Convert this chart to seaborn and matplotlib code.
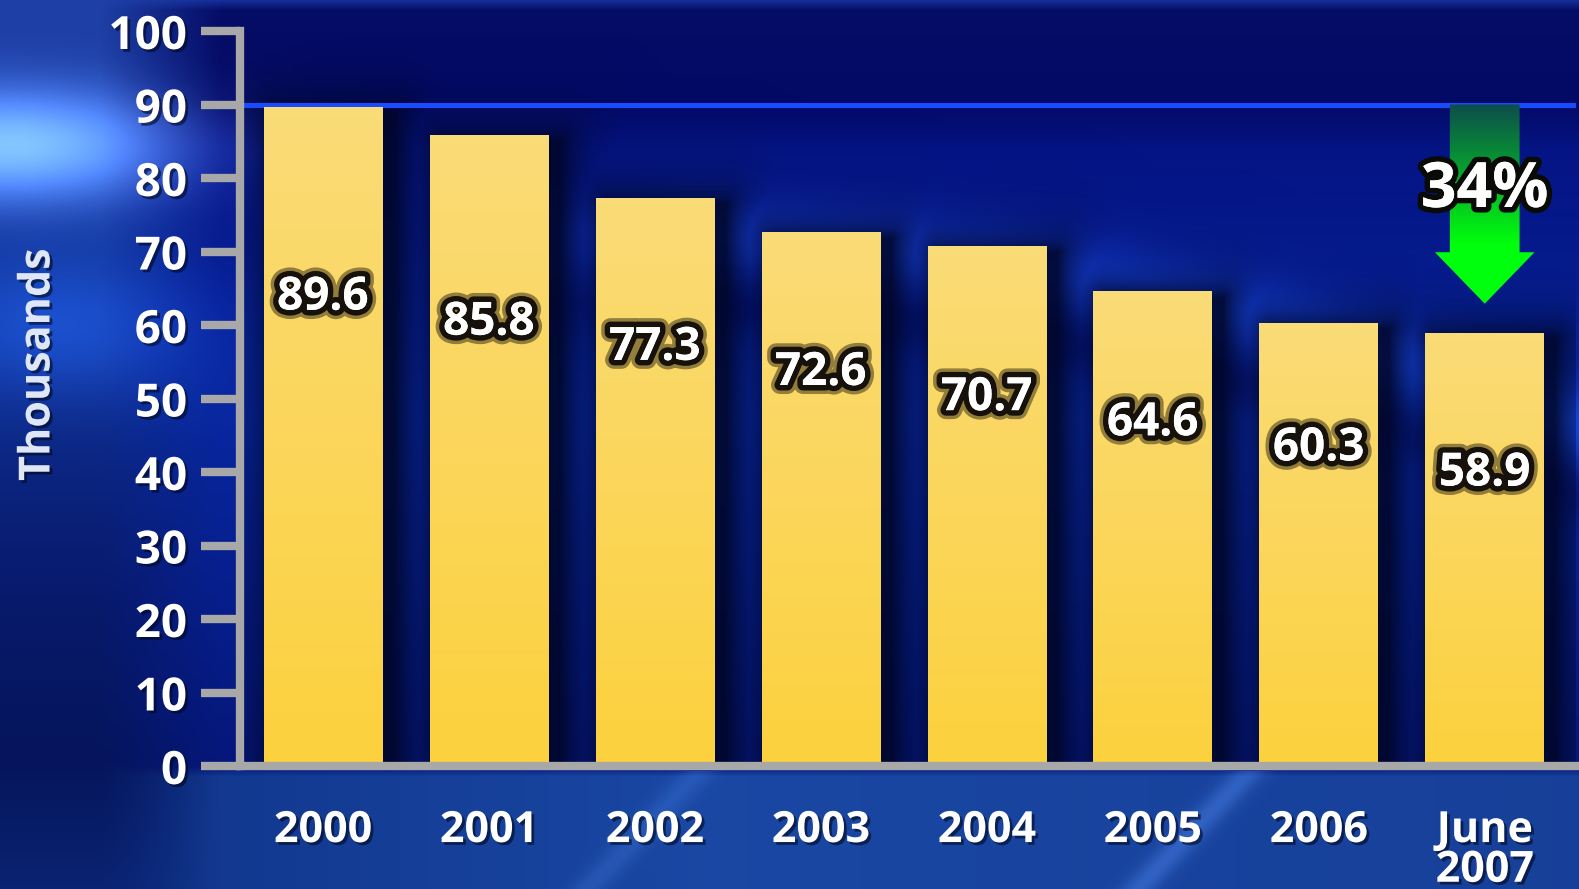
import numpy as np
import pandas as pd
import matplotlib
matplotlib.use("Agg")
import matplotlib.pyplot as plt
import matplotlib.patheffects as pe
from matplotlib.patches import Polygon
import seaborn as sns

# ---- data -------------------------------------------------------------
periods = ["2000", "2001", "2002", "2003", "2004", "2005", "2006", "June\n2007"]
values = [89.6, 85.8, 77.3, 72.6, 70.7, 64.6, 60.3, 58.9]
y_ticks = [0, 10, 20, 30, 40, 50, 60, 70, 80, 90, 100]
peak_level = 90
drop_label = "34%"
y_label = "Thousands"

df = pd.DataFrame({"period": periods, "value": values})

# ---- style ------------------------------------------------------------
sns.set_theme(style="white")
plt.rcParams["font.family"] = ["Open Sans", "DejaVu Sans"]
plt.rcParams["font.weight"] = "bold"

W, H = 1579, 889
fig = plt.figure(figsize=(W / 100, H / 100), dpi=100)

# ---- backdrop -----------------------------------------------------------
yy, xx = np.mgrid[0:H, 0:W].astype(float)


def interp_rgb(pos, stops):
    p = [s[0] for s in stops]
    out = np.zeros(pos.shape + (3,))
    for c in range(3):
        out[..., c] = np.interp(pos, p, [s[1][c] for s in stops])
    return out


upper = interp_rgb(yy, [
    (0, (0.08, 0.18, 0.60)), (10, (0.02, 0.05, 0.40)), (100, (0.01, 0.04, 0.40)),
    (150, (0.02, 0.08, 0.52)), (420, (0.03, 0.15, 0.62)), (760, (0.02, 0.09, 0.48)),
])
lower = interp_rgb(xx, [
    (0, (0.03, 0.12, 0.42)), (200, (0.07, 0.22, 0.56)), (700, (0.10, 0.28, 0.64)),
    (1579, (0.09, 0.25, 0.60)),
])
blend = np.clip((yy - 766) / 10.0, 0, 1)[..., None]
bg = upper * (1 - blend) + lower * blend

# left-hand column: darker, with a pale glow near the top
left_w = np.clip((220 - xx) / 120.0, 0, 1)[..., None]
left_col = interp_rgb(yy, [
    (0, (0.12, 0.25, 0.65)), (300, (0.06, 0.20, 0.60)), (600, (0.03, 0.10, 0.42)),
    (760, (0.02, 0.08, 0.36)), (889, (0.04, 0.14, 0.45)),
])
bg = bg * (1 - left_w) + left_col * left_w
glow = np.exp(-((xx - 10) / 160.0) ** 2 - ((yy - 145) / 55.0) ** 2)[..., None]
bg = bg + glow * np.array([0.42, 0.55, 0.66])
glow2 = np.exp(-((xx - 60) / 140.0) ** 2 - ((yy - 330) / 70.0) ** 2)[..., None]
bg = bg + glow2 * np.array([0.05, 0.12, 0.22])

# sweeping arc behind the bar tops
yc = 235 + 0.00022 * (xx - 650) ** 2
arc_w = np.clip((xx - 450) / 250.0, 0, 1) * (yy < 766)
arc = (np.exp(-((yy - yc) / 38.0) ** 2) * arc_w)[..., None]
bg = bg + arc * np.array([0.05, 0.12, 0.25])
dark_arc = (np.exp(-((yy - yc - 70) / 30.0) ** 2) * arc_w)[..., None]
bg = bg - dark_arc * np.array([0.01, 0.05, 0.12])

# diagonal streaks under the baseline
for x0, strength in [(1250, 0.12), (700, 0.07)]:
    d = (xx - x0) + (yy - 770) * 0.95
    streak = (np.exp(-(d / 18.0) ** 2) * (yy > 770))[..., None]
    bg = bg + streak * strength * np.array([0.8, 1.0, 1.2])

bg = np.clip(bg, 0, 1)
bg_ax = fig.add_axes([0, 0, 1, 1], zorder=-10)
bg_ax.imshow(bg, aspect="auto", interpolation="bilinear")
bg_ax.set_axis_off()

# ---- main axes ----------------------------------------------------------
x_lo, x_hi = -0.5, 7.55
ax = fig.add_axes([240 / W, (H - 766) / H, (1576 - 240) / W, (766 - 31) / H])
ax.set_facecolor("none")

bar_width = 0.715
sns.barplot(data=df, x="period", y="value", order=periods, width=bar_width,
            color="#fcd84e", ax=ax, zorder=2)

# soft drop shadows to the right of each bar
px_x = (1576 - 240) / (x_hi - x_lo)
px_y = 735 / 100.0
gx = np.linspace(x_lo, x_hi, 900)
gy = np.linspace(0, 100, 500)
GX, GY = np.meshgrid(gx, gy)
alpha = np.zeros_like(GX)
for i, v in enumerate(values):
    cx = i + 0.07
    dxp = np.maximum(0, np.abs(GX - cx) - bar_width / 2) * px_x
    dyp = np.maximum(0, GY - (v - 0.8)) * px_y
    dist = np.hypot(dxp, dyp)
    alpha = np.maximum(alpha, 0.85 * np.exp(-dist / 24.0))
shadow = np.zeros(GX.shape + (4,))
shadow[..., 0:3] = (0.0, 0.02, 0.14)
shadow[..., 3] = alpha
ax.imshow(shadow, extent=[x_lo, x_hi, 0, 100], origin="lower", aspect="auto",
          zorder=1, interpolation="bilinear")

# vertical golden gradient inside each bar
grad = np.linspace(0, 1, 256)[:, None]
top_c = np.array([0.98, 0.86, 0.47])
bot_c = np.array([0.99, 0.82, 0.24])
bar_img = (bot_c * (1 - grad[..., None]) + top_c * grad[..., None])
for patch in ax.patches:
    x0 = patch.get_x()
    w = patch.get_width()
    h = patch.get_height()
    im = ax.imshow(bar_img, extent=[x0, x0 + w, 0, h], origin="lower",
                   aspect="auto", zorder=2, interpolation="bilinear")
    im.set_clip_path(patch)
    patch.set_facecolor("none")
    patch.set_edgecolor("none")

# reference level line
ax.axhline(peak_level, color="#1a4cff", lw=3.6, zorder=1.5)

# value labels, stepping down bar by bar
label_fx = [pe.withStroke(linewidth=13, foreground=(0.08, 0.06, 0.02, 0.45)),
            pe.withStroke(linewidth=8, foreground="#16110a"), pe.Normal()]
for i, v in enumerate(values):
    ax.text(i, 63.8 - 3.42 * i, f"{v:.1f}", ha="center", va="center",
            color="white", fontsize=33, fontweight="bold", zorder=5,
            path_effects=label_fx)

# green drop arrow over the last bar
last = len(values) - 1
tip = 62.9
head_base = 69.9
shaft_hw, head_hw = 0.21, 0.30
arrow_pts = [(last - shaft_hw, peak_level), (last + shaft_hw, peak_level),
             (last + shaft_hw, head_base), (last + head_hw, head_base),
             (last, tip), (last - head_hw, head_base), (last - shaft_hw, head_base)]
arrow = Polygon(arrow_pts, closed=True, facecolor="none", edgecolor="none")
ax.add_patch(arrow)
ag = np.linspace(0, 1, 256)
ag = np.clip((ag - 0.30) / 0.70, 0, 1)[:, None, None]
green_lo = np.array([0.0, 1.0, 0.05])
green_hi = np.array([0.05, 0.30, 0.30])
arrow_img = green_lo * (1 - ag) + green_hi * ag
aim = ax.imshow(arrow_img, extent=[last - 0.35, last + 0.35, tip, peak_level],
                origin="lower", aspect="auto", zorder=3, interpolation="bilinear")
aim.set_clip_path(arrow)

ax.text(last, 78.3, drop_label, ha="center", va="center", color="white",
        fontsize=45, fontweight="bold", zorder=6,
        path_effects=[pe.withStroke(linewidth=8, foreground="#0a0a06"), pe.Normal()])

# ---- axes cosmetics -----------------------------------------------------
ax.set_xlim(x_lo, x_hi)
ax.set_ylim(0, 100)
ax.set_yticks(y_ticks)
ax.set_xlabel("")
ax.set_ylabel("")
for side in ["top", "right"]:
    ax.spines[side].set_visible(False)
for side in ["left", "bottom"]:
    ax.spines[side].set_color("#a8a8a8")
    ax.spines[side].set_linewidth(6)
    ax.spines[side].set_zorder(4)
ax.tick_params(axis="y", which="major", left=True, direction="out", length=28,
               width=6, color="#a8a8a8", pad=10, labelsize=33, labelcolor="white")
ax.tick_params(axis="x", bottom=False, length=0, pad=31, labelsize=31,
               labelcolor="white")

tick_fx = [pe.SimplePatchShadow(offset=(2, -2), shadow_rgbFace="#000820", alpha=0.6),
           pe.Normal()]
for lab in ax.get_yticklabels():
    lab.set_fontweight("bold")
    lab.set_path_effects(tick_fx)
for lab in ax.get_xticklabels():
    lab.set_fontweight("bold")
    lab.set_linespacing(0.9)
    lab.set_path_effects(tick_fx)

fig.text(38 / W, (H - 365) / H, y_label, rotation=90, ha="center", va="center",
         color="#dfe6f5", fontsize=31, fontweight="bold", path_effects=tick_fx)

fig.savefig("out.png", dpi=100)
